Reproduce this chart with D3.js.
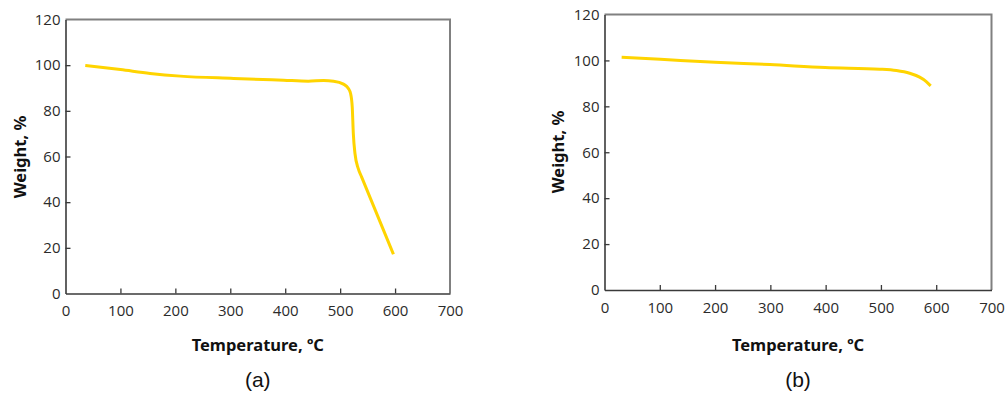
<!DOCTYPE html>
<html>
<head>
<meta charset="utf-8">
<script src="https://cdn.jsdelivr.net/npm/d3@7"></script>
<style>
  body { margin: 0; background: #fff; }
  svg { display: block; }
</style>
</head>
<body>
<div id="chartArea"></div>
<script>
// data
const tempA = [36, 100, 154, 209, 306, 397, 442, 470, 488, 506, 515, 519, 522, 524, 527, 533, 539, 597];
const weightA = [99.9, 98.1, 96.4, 95.2, 94.2, 93.4, 93.0, 93.3, 93.0, 91.7, 89.8, 87.6, 81.8, 70.0, 61.3, 54.7, 51.1, 17.2];

const tempB = [31, 101, 200, 299, 399, 498, 528, 552, 570, 582, 590];
const weightB = [101.4, 100.5, 99.2, 98.2, 96.9, 96.2, 95.6, 94.4, 92.7, 90.8, 88.9];

const xTicks = [0, 100, 200, 300, 400, 500, 600, 700];
const yTicks = [0, 20, 40, 60, 80, 100, 120];

const xTitle = "Temperature, ºC";
const yTitle = "Weight, %";

const svg = d3.select("#chartArea")
    .append("svg")
    .attr("width", 1008)
    .attr("height", 394);

const drawPanel = (props) => {
    const g = svg.append("g");

    const xScale = d3.scaleLinear()
        .domain([0, 700])
        .range([props.left, props.right]);
    const yScale = d3.scaleLinear()
        .domain([0, 120])
        .range([props.bottom, props.top]);

    // frame top + right
    g.append("path")
        .attr("d", `M${props.left},${props.top}H${props.right}V${props.bottom}`)
        .attr("fill", "none")
        .attr("stroke", "#808080")
        .attr("stroke-width", 2);

    const xAxis = d3.axisBottom(xScale)
        .tickValues(xTicks)
        .tickSize(-5)
        .tickSizeOuter(0)
        .tickPadding(10);
    const yAxis = d3.axisLeft(yScale)
        .tickValues(yTicks)
        .tickSize(-5)
        .tickSizeOuter(0)
        .tickPadding(10);

    const xg = g.append("g")
        .attr("transform", `translate(0,${props.bottom})`)
        .call(xAxis);
    const yg = g.append("g")
        .attr("transform", `translate(${props.left},0)`)
        .call(yAxis);

    [xg, yg].forEach((ax) => {
        ax.select(".domain").attr("stroke", "#3a3a3a").attr("stroke-width", 1.6);
        ax.selectAll(".tick line").attr("stroke", "#3a3a3a").attr("stroke-width", 1.3);
        ax.selectAll(".tick text")
            .attr("fill", "#2b2b2b")
            .style("font-family", "'Open Sans', sans-serif")
            .style("font-size", "15px");
    });
    xg.selectAll(".tick text").attr("dy", "0.85em");
    // first/last tick lines are on the frame
    xg.selectAll(".tick line").filter((d) => d === 0 || d === 700).remove();
    yg.selectAll(".tick line").filter((d) => d === 0 || d === 120).remove();
    yg.selectAll(".tick text").attr("x", -5);

    const line = d3.line()
        .x((d) => xScale(d[0]))
        .y((d) => yScale(d[1]))
        .curve(d3.curveMonotoneX);

    g.append("path")
        .attr("d", line(props.temps.map((t, i) => [t, props.weights[i]])))
        .attr("fill", "none")
        .attr("stroke", "#FFD400")
        .attr("stroke-width", 3)
        .attr("stroke-linecap", "butt")
        .attr("stroke-linejoin", "round");

    const midX = (props.left + props.right) / 2;

    g.append("text")
        .attr("x", midX)
        .attr("y", 351)
        .attr("text-anchor", "middle")
        .style("font-family", "'Noto Sans', sans-serif")
        .style("font-weight", "700")
        .style("font-size", "16.5px")
        .attr("fill", "#111")
        .text(xTitle);

    g.append("text")
        .attr("transform", `translate(${props.yTitleX},${props.yTitleY}) rotate(-90)`)
        .attr("text-anchor", "middle")
        .style("font-family", "'Noto Sans', sans-serif")
        .style("font-weight", "700")
        .style("font-size", "16.5px")
        .attr("fill", "#111")
        .text(yTitle);

    g.append("text")
        .attr("x", midX)
        .attr("y", 387)
        .attr("text-anchor", "middle")
        .style("font-family", "'Liberation Sans', Arial, sans-serif")
        .style("font-size", "21px")
        .attr("fill", "#111")
        .text(props.caption);
};

drawPanel({
    left: 65.5, right: 450, top: 19.5, bottom: 293.5,
    temps: tempA, weights: weightA,
    yTitleX: 26, yTitleY: 157,
    caption: "(a)"
});

drawPanel({
    left: 604.5, right: 991.5, top: 14.5, bottom: 290,
    temps: tempB, weights: weightB,
    yTitleX: 564, yTitleY: 152,
    caption: "(b)"
});
</script>
</body>
</html>
